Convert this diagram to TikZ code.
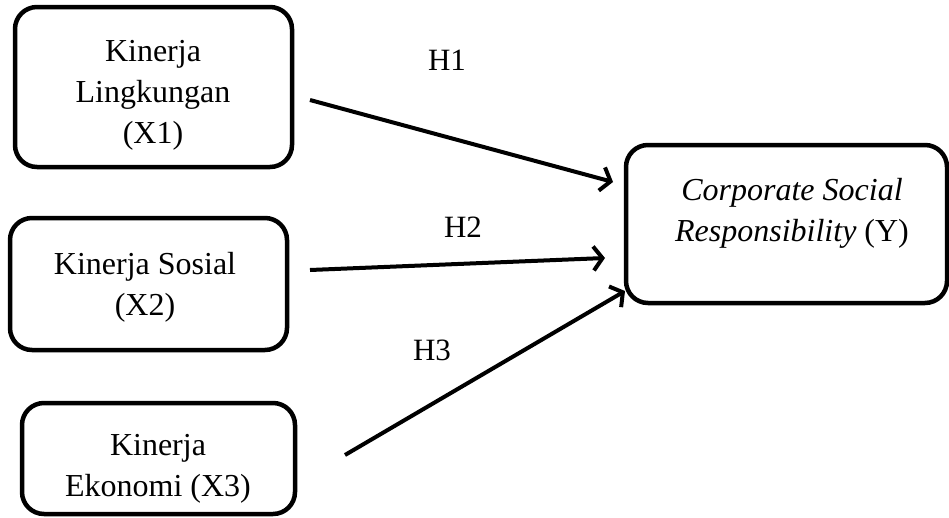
\documentclass[tikz,border=0pt]{standalone}
\usepackage{fontspec}
\setmainfont{Liberation Serif}
\usetikzlibrary{arrows.meta}
\begin{document}
\begin{tikzpicture}[x=1pt,y=-1pt,
  varbox/.style={draw, line width=4.5pt, rounded corners=22pt, inner sep=0pt},
  boxtext/.style={align=center, inner sep=0pt, font=\fontsize{32}{41}\selectfont},
  link/.style={line width=4pt, -{Straight Barb[length=9pt,width=24pt]}},
  hlabel/.style={font=\fontsize{31}{36}\selectfont, inner sep=0pt}]
\useasboundingbox (0,0) rectangle (949,517);
\node[varbox, minimum width=277pt, minimum height=160pt] (x1) at (153.5,87) {};
\node[varbox, minimum width=277pt, minimum height=132pt] (x2) at (148.5,284) {};
\node[varbox, minimum width=273pt, minimum height=111pt] (x3) at (158.5,458.5) {};
\node[varbox, minimum width=321pt, minimum height=158pt] (y) at (786.5,224) {};
\node[boxtext] (t1) at (153,95) {Kinerja\\Lingkungan\\(X1)};
\node[boxtext] (t2) at (145,287) {Kinerja Sosial\\(X2)};
\node[boxtext] (t3) at (158,469) {Kinerja\\Ekonomi (X3)};
\node[boxtext] (ty) at (792,213) {\textit{Corporate Social}\\\textit{Responsibility} (Y)};
\coordinate (s1) at (310,100);
\coordinate (e1) at (613,182);
\coordinate (s2) at (310,270);
\coordinate (e2) at (605,258);
\coordinate (s3) at (345,455);
\coordinate (e3) at (625,291);
\draw[link] (s1) -- (e1);
\draw[link] (s2) -- (e2);
\draw[link] (s3) -- (e3);
\node[hlabel] (h1) at (447,60) {H1};
\node[hlabel] (h2) at (463,227) {H2};
\node[hlabel] (h3) at (432,350) {H3};
\end{tikzpicture}
\end{document}
